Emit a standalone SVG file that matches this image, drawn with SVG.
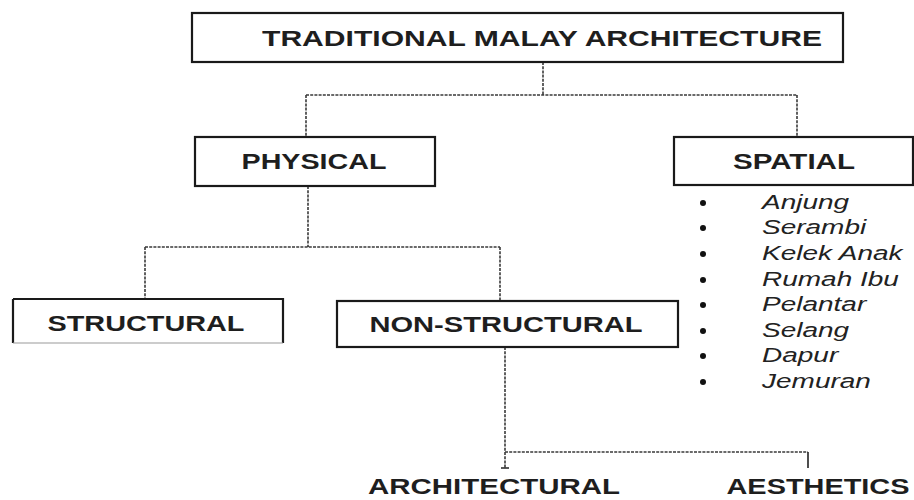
<svg xmlns="http://www.w3.org/2000/svg" width="914" height="500" viewBox="0 0 914 500">
<style>
.box{fill:#fff;stroke:#1a1a1a;stroke-width:2.2}
.lbl{font-family:"Liberation Sans",Arial,sans-serif;font-weight:bold;font-size:22px;fill:#1e1e1e;text-anchor:middle}
.item{font-family:"Liberation Sans",Arial,sans-serif;font-style:italic;font-size:20px;fill:#222}
.dot{fill:none;stroke:#3a3a3a;stroke-width:1.6;stroke-dasharray:3 1.2}
.solid{fill:none;stroke:#222;stroke-width:1.6}
</style>
<rect width="914" height="500" fill="#fff"/>
<g id="connectors">
<path class="dot" d="M543 62V95M306 95H797M306 95V137M797 95V137"/>
<path class="dot" d="M308 186V247M145 247H500M145 247V299M500 247V301"/>
<path class="dot" d="M505 347V468M505 452H808"/>
<path class="solid" d="M808 452V468M501 468H509"/>
</g>
<g id="traditional">
<rect class="box" x="192" y="13" width="651" height="49"/>
<text class="lbl" x="542" y="46" font-size="23" textLength="560" lengthAdjust="spacingAndGlyphs">TRADITIONAL MALAY ARCHITECTURE</text>
</g>
<g id="physical">
<rect class="box" x="195" y="137" width="240" height="49"/>
<text class="lbl" x="314" y="169" textLength="145" lengthAdjust="spacingAndGlyphs">PHYSICAL</text>
</g>
<g id="spatial">
<rect class="box" x="674" y="137" width="239" height="48"/>
<text class="lbl" x="794" y="169" textLength="122" lengthAdjust="spacingAndGlyphs">SPATIAL</text>
<g fill="#111">
<circle cx="703" cy="203" r="3"/><circle cx="703" cy="228" r="3"/><circle cx="703" cy="254" r="3"/><circle cx="703" cy="280" r="3"/>
<circle cx="703" cy="305" r="3"/><circle cx="703" cy="331" r="3"/><circle cx="703" cy="356" r="3"/><circle cx="703" cy="382" r="3"/>
</g>
<g transform="matrix(1.4 0 0 1 -304.8 0)">
<text class="item" x="762" y="209">Anjung</text>
<text class="item" x="762" y="234">Serambi</text>
<text class="item" x="762" y="260">Kelek Anak</text>
<text class="item" x="762" y="286">Rumah Ibu</text>
<text class="item" x="762" y="311">Pelantar</text>
<text class="item" x="762" y="337">Selang</text>
<text class="item" x="762" y="362">Dapur</text>
<text class="item" x="762" y="388">Jemuran</text>
</g>
</g>
<g id="structural">
<path class="box" d="M13 299H283V343M13 299V343"/>
<path d="M13 343H283" stroke="#999" stroke-width="1"/>
<text class="lbl" x="146" y="331" textLength="197" lengthAdjust="spacingAndGlyphs">STRUCTURAL</text>
</g>
<g id="nonstructural">
<rect class="box" x="337" y="301" width="341" height="46"/>
<text class="lbl" x="506" y="332" textLength="273" lengthAdjust="spacingAndGlyphs">NON-STRUCTURAL</text>
</g>
<g id="architectural">
<text class="lbl" x="494" y="494" textLength="252" lengthAdjust="spacingAndGlyphs">ARCHITECTURAL</text>
</g>
<g id="aesthetics">
<text class="lbl" x="818" y="494" textLength="183" lengthAdjust="spacingAndGlyphs">AESTHETICS</text>
</g>
</svg>
